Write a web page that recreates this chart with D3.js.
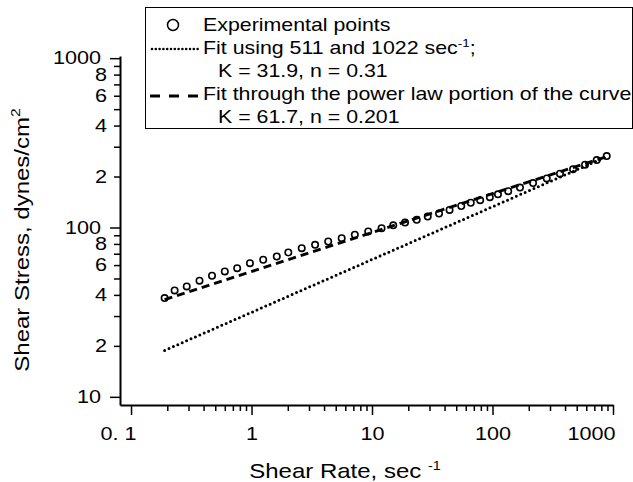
<!DOCTYPE html>
<html>
<head>
<meta charset="utf-8">
<script src="https://cdn.jsdelivr.net/npm/d3@7"></script>
<style>
  body { margin: 0; background: #fff; }
  text { font-family: "Liberation Sans", Arial, sans-serif; fill: #000; }
</style>
</head>
<body>
<script>
// experimental points (shear rate in 1/s, shear stress in dynes/cm2)
const shearRate = [0.19, 0.23, 0.29, 0.37, 0.47, 0.6, 0.76, 0.97, 1.25, 1.62, 2.02, 2.61, 3.37, 4.33,
  5.6, 7.2, 9.3, 12, 15, 18.8, 23.5, 29, 36, 44, 55, 66, 79, 95, 111, 135, 169, 217, 282, 363,
  466, 586, 733, 887];
const shearStress = [38.3, 42.5, 44.9, 48.5, 51.9, 55, 57.5, 61.6, 64.5, 67.4, 71.2, 75.5, 79, 82.7,
  86.5, 90.6, 94.7, 99, 103, 107, 111, 116, 121, 127, 134, 140, 145, 151, 157, 164, 172, 183, 195, 208,
  221, 235, 250, 264];

// the two fitted lines (straight on log-log, so the end points are enough)
const fitDotRate = [0.19, 887];
const fitDotStress = [18.8, 262];
const fitDashRate = [0.19, 887];
const fitDashStress = [37.5, 262];

const xMajorTicks = [0.1, 1, 10, 100, 1000];
const xTickLabels = ["0. 1", "1", "10", "100", "1000"];
const yMajorTicks = [10, 100, 1000];
const yTickLabels = ["10", "100", "1000"];

const legendLabels = ["Experimental points", "Fit using 511 and 1022 sec", "K = 31.9, n = 0.31",
  "Fit through the power law portion of the curve", "K = 61.7, n = 0.201"];

const W = 633, H = 482;
const SX = 1.2; // the original lettering is wide

const svg = d3.select("body").append("svg")
  .attr("width", W)
  .attr("height", H);

const x = d3.scaleLog().domain([0.081, 1000]).range([120, 613]);
const y = d3.scaleLog().domain([8.95, 1030]).range([405, 56]);

const xMinorTicks = [0.1, 1, 10, 100].flatMap(d => d3.range(2, 10).map(k => d * k));
const yMinorTicks = [10, 100].flatMap(d => d3.range(2, 10).map(k => d * k));

function widen(sel, sx) {
  sel.each(function() {
    const t = d3.select(this);
    const tx = +t.attr("x") || 0;
    t.attr("transform", `translate(${tx},0) scale(${sx},1)`).attr("x", 0);
  });
}

// x axis
svg.append("g")
  .attr("transform", "translate(0,405)")
  .call(d3.axisBottom(x).tickValues(xMinorTicks).tickSize(6).tickFormat(""))
  .call(g => g.select(".domain").remove());

const gx = svg.append("g")
  .attr("transform", "translate(0,405)")
  .call(d3.axisBottom(x).tickValues(xMajorTicks).tickSize(10).tickSizeOuter(0).tickPadding(12)
    .tickFormat((d, i) => xTickLabels[i]));
gx.selectAll("text").style("font-size", "18px");
gx.selectAll(".tick").filter(d => d === 1000).select("text").attr("text-anchor", "end").attr("x", 2);
gx.selectAll(".tick").filter(d => d === 0.1).select("text").attr("text-anchor", "end").attr("x", 5);
widen(gx.selectAll("text"), SX);

// y axis
const gyMinor = svg.append("g")
  .attr("transform", "translate(120,0)")
  .call(d3.axisLeft(y).tickValues(yMinorTicks).tickSize(6).tickPadding(7)
    .tickFormat(d => {
      const k = Math.round(d / Math.pow(10, Math.floor(Math.log10(d) + 1e-9)));
      return k % 2 === 0 ? k : "";
    }))
  .call(g => g.select(".domain").remove());
gyMinor.selectAll("text").style("font-size", "18px");
widen(gyMinor.selectAll("text"), SX);

const gy = svg.append("g")
  .attr("transform", "translate(120,0)")
  .call(d3.axisLeft(y).tickValues(yMajorTicks).tickSize(10).tickSizeOuter(0).tickPadding(9)
    .tickFormat((d, i) => yTickLabels[i]));
gy.selectAll("text").style("font-size", "18px");
widen(gy.selectAll("text"), SX);

svg.selectAll(".domain").attr("stroke-width", 2);
svg.selectAll(".tick line").attr("stroke-width", 1.5);

// fits
const line = d3.line().x(d => x(d[0])).y(d => y(d[1]));

svg.append("path")
  .datum(fitDotRate.map((r, i) => [r, fitDotStress[i]]))
  .attr("fill", "none")
  .attr("stroke", "#000")
  .attr("stroke-width", 3)
  .attr("stroke-linecap", "round")
  .attr("stroke-dasharray", "0,4.8")
  .attr("d", line);

svg.append("path")
  .datum(fitDashRate.map((r, i) => [r, fitDashStress[i]]))
  .attr("fill", "none")
  .attr("stroke", "#000")
  .attr("stroke-width", 3)
  .attr("stroke-dasharray", "8,5")
  .attr("d", line);

// experimental points
svg.append("g")
  .selectAll("circle")
  .data(shearRate.map((r, i) => [r, shearStress[i]]))
  .join("circle")
  .attr("cx", d => x(d[0]))
  .attr("cy", d => y(d[1]))
  .attr("r", 3.2)
  .attr("fill", "none")
  .attr("stroke", "#000")
  .attr("stroke-width", 1.6);

// axis titles
const xt = svg.append("g")
  .attr("transform", `translate(345,478) scale(${SX},1)`)
  .append("text")
  .attr("text-anchor", "middle")
  .style("font-size", "20px");
xt.append("tspan").text("Shear Rate, sec ");
xt.append("tspan").attr("dy", -8).style("font-size", "12px").text("-1");

const yt = svg.append("g")
  .attr("transform", `translate(29,240) rotate(-90) scale(${SX},1)`)
  .append("text")
  .attr("text-anchor", "middle")
  .style("font-size", "20px");
yt.append("tspan").text("Shear Stress, dynes/cm");
yt.append("tspan").attr("dy", -9).style("font-size", "13px").text("2");

// legend
const LSX = 1.22;
const lg = svg.append("g");
lg.append("rect")
  .attr("x", 145.5).attr("y", 7.5)
  .attr("width", 487).attr("height", 121)
  .attr("fill", "#fff")
  .attr("stroke", "#000")
  .attr("stroke-width", 1);

const rowY = [31, 54, 77, 100, 123];
const rowX = [203, 203, 218, 203, 218];

legendLabels.forEach((s, i) => {
  const t = lg.append("g")
    .attr("transform", `translate(${rowX[i]},${rowY[i]}) scale(${LSX},1)`)
    .append("text")
    .style("font-size", "17.5px");
  t.append("tspan").text(s);
  if (i === 1) {
    t.append("tspan").attr("dy", -7).style("font-size", "11px").text("-1");
    t.append("tspan").attr("dy", 7).text(";");
  }
});

lg.append("circle")
  .attr("cx", 173).attr("cy", rowY[0] - 6)
  .attr("r", 5.5)
  .attr("fill", "none")
  .attr("stroke", "#000")
  .attr("stroke-width", 1.5);

lg.append("line")
  .attr("x1", 152).attr("x2", 198)
  .attr("y1", rowY[1] - 5).attr("y2", rowY[1] - 5)
  .attr("stroke", "#000")
  .attr("stroke-width", 2.6)
  .attr("stroke-linecap", "round")
  .attr("stroke-dasharray", "0,3.8");

lg.append("line")
  .attr("x1", 150).attr("x2", 198)
  .attr("y1", rowY[3] - 4).attr("y2", rowY[3] - 4)
  .attr("stroke", "#000")
  .attr("stroke-width", 3)
  .attr("stroke-dasharray", "10,9");
</script>
</body>
</html>
